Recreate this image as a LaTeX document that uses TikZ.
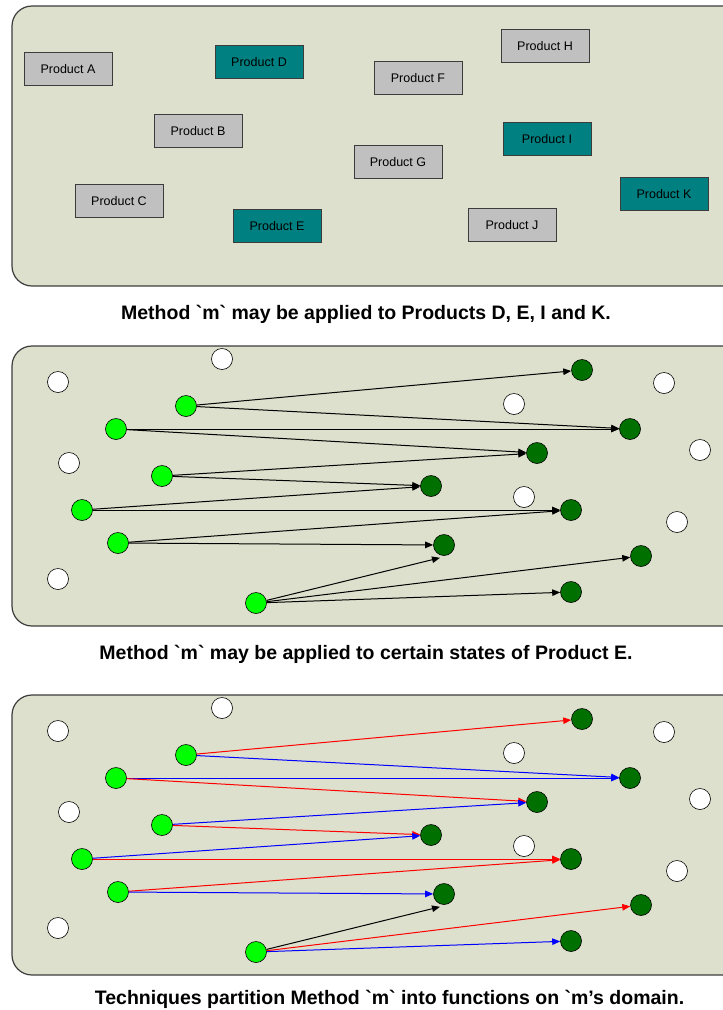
\documentclass[tikz,border=0pt]{standalone}
\usepackage{fontspec}
\setmainfont{Liberation Sans}
\usetikzlibrary{arrows.meta}

\definecolor{panelfill}{RGB}{221,224,204}
\definecolor{panelline}{RGB}{60,60,60}
\definecolor{prodgray}{RGB}{192,192,192}
\definecolor{prodteal}{RGB}{0,128,128}
\definecolor{srcgreen}{RGB}{0,255,0}
\definecolor{tgtgreen}{RGB}{0,112,0}
\definecolor{arrred}{RGB}{255,0,0}
\definecolor{arrblue}{RGB}{0,0,255}

\newcommand\gr{\textasciigrave}

\tikzset{
  panel/.style={draw=panelline, fill=panelfill, line width=1.2pt, rounded corners=20pt},
  product/.style={draw=panelline, line width=1pt, minimum width=88pt, minimum height=33pt,
                  inner sep=0pt, font=\fontsize{12.5}{14}\selectfont},
  grayprod/.style={product, fill=prodgray},
  tealprod/.style={product, fill=prodteal},
  state/.style={circle, draw=black, line width=0.6pt, minimum size=21pt, inner sep=0pt},
  idle/.style={state, fill=white},
  src/.style={state, fill=srcgreen},
  tgt/.style={state, fill=tgtgreen},
  link/.style={line width=1pt, -{Triangle[length=8pt,width=6.5pt]}},
  caption/.style={anchor=base, inner sep=0pt, font=\bfseries\fontsize{19.5}{22}\selectfont}
}

% states of a product: #1 name prefix, #2 vertical offset
\newcommand\statelayer[2]{%
  \node[idle] (#1w1) at (222,{359+#2}) {};
  \node[idle] (#1w2) at (58,{382+#2}) {};
  \node[idle] (#1w3) at (664,{383+#2}) {};
  \node[idle] (#1w4) at (514,{404+#2}) {};
  \node[idle] (#1w5) at (69,{463+#2}) {};
  \node[idle] (#1w6) at (700,{450+#2}) {};
  \node[idle] (#1w7) at (524,{497+#2}) {};
  \node[idle] (#1w8) at (677,{522+#2}) {};
  \node[idle] (#1w9) at (58,{579+#2}) {};
  \node[src] (#1s1) at (186,{406+#2}) {};
  \node[src] (#1s2) at (116,{429+#2}) {};
  \node[src] (#1s3) at (162,{476+#2}) {};
  \node[src] (#1s4) at (82,{510+#2}) {};
  \node[src] (#1s5) at (118,{543+#2}) {};
  \node[src] (#1s6) at (256,{603+#2}) {};
  \node[tgt] (#1t1) at (582,{370+#2}) {};
  \node[tgt] (#1t2) at (630,{429+#2}) {};
  \node[tgt] (#1t3) at (537,{453+#2}) {};
  \node[tgt] (#1t4) at (431,{486+#2}) {};
  \node[tgt] (#1t5) at (571,{510+#2}) {};
  \node[tgt] (#1t6) at (444,{545+#2}) {};
  \node[tgt] (#1t7) at (641,{556+#2}) {};
  \node[tgt] (#1t8) at (571,{592+#2}) {};
}

\begin{document}
\begin{tikzpicture}[x=1pt,y=-1pt]
\useasboundingbox (0,0) rectangle (723,1010);
\clip (0,0) rectangle (723,1010);

% ---- products ----
\draw[panel] (12,6) rectangle (760,286);
\node[grayprod] (pa) at (68,69)   {Product A};
\node[tealprod] (pd) at (259,62)  {Product D};
\node[grayprod] (pf) at (418,78)  {Product F};
\node[grayprod] (ph) at (545,46)  {Product H};
\node[grayprod] (pb) at (198,131) {Product B};
\node[tealprod] (pi) at (547,139) {Product I};
\node[grayprod] (pg) at (398,162) {Product G};
\node[grayprod] (pc) at (119,201) {Product C};
\node[tealprod] (pe) at (277,226) {Product E};
\node[grayprod] (pj) at (512,225) {Product J};
\node[tealprod] (pk) at (664,194) {Product K};
\node[caption] (cap1) at (366,319.5) {Method \gr m\gr{} may be applied to Products D, E, I and K.};

% ---- states of Product E ----
\draw[panel] (12,346) rectangle (760,626);
\statelayer{b}{0}
\draw[link] (bs1) -- (bt1);
\draw[link] (bs1) -- (bt2);
\draw[link] (bs2) -- (bt2);
\draw[link] (bs2) -- (bt3);
\draw[link] (bs3) -- (bt3);
\draw[link] (bs3) -- (bt4);
\draw[link] (bs4) -- (bt4);
\draw[link] (bs4) -- (bt5);
\draw[link] (bs5) -- (bt5);
\draw[link] (bs5) -- (bt6);
\draw[link] (bs6) -- ([shift={(-4,2)}]bt6.south);
\draw[link] (bs6) -- (bt7);
\draw[link] (bs6) -- (bt8);
\node[caption] (cap2) at (366,659.5) {Method \gr m\gr{} may be applied to certain states of Product E.};

% ---- techniques ----
\draw[panel] (12,695) rectangle (760,975);
\statelayer{c}{349}
\draw[link, arrred]  (cs1) -- (ct1);
\draw[link, arrblue] (cs1) -- (ct2);
\draw[link, arrblue] (cs2) -- (ct2);
\draw[link, arrred]  (cs2) -- (ct3);
\draw[link, arrblue] (cs3) -- (ct3);
\draw[link, arrred]  (cs3) -- (ct4);
\draw[link, arrblue] (cs4) -- (ct4);
\draw[link, arrred]  (cs4) -- (ct5);
\draw[link, arrred]  (cs5) -- (ct5);
\draw[link, arrblue] (cs5) -- (ct6);
\draw[link]          (cs6) -- ([shift={(-4,2)}]ct6.south);
\draw[link, arrred]  (cs6) -- (ct7);
\draw[link, arrblue] (cs6) -- (ct8);
\node[caption] (cap3) at (389.5,1004) {Techniques partition Method \gr m\gr{} into functions on \gr m’s domain.};
\end{tikzpicture}
\end{document}
